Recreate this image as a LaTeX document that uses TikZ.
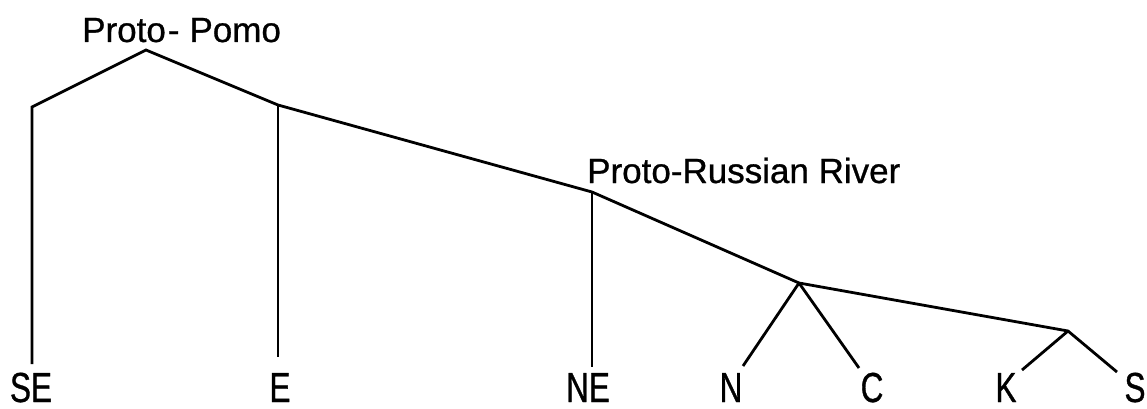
\documentclass[tikz,border=0pt]{standalone}
\usepackage{fontspec}
\setmainfont{Liberation Sans}[FakeBold=0.8]
\newfontfamily\condfont[FakeStretch=0.75,FakeBold=0.8]{Liberation Sans}
\begin{document}
\begin{tikzpicture}[x=1pt,y=-1pt,
  branch/.style={line width=2.8pt,line join=miter,line cap=butt},
  toplabel/.style={anchor=base west,inner sep=0pt,font=\fontsize{35}{40}\selectfont},
  leaf/.style={anchor=base,inner sep=0pt,font=\condfont\fontsize{42}{46}\selectfont}]
\useasboundingbox (0,0) rectangle (1147,409);
% labels
\node[toplabel] (pp) at (82,42) {Proto\hspace{2pt}-\hspace{10pt}Pomo};
\node[toplabel] (prr) at (587,183) {Proto-Russian River};
\node[leaf] (SE) at (31,402) {SE};
\node[leaf] (E) at (280,402) {E};
\node[leaf] (NE) at (588,402) {NE};
\node[leaf] (N) at (731,402) {N};
\node[leaf] (C) at (872,402) {C};
\node[leaf] (K) at (1006,402) {K};
\node[leaf] (S) at (1135,402) {S};
% junctions
\coordinate (top) at (146,50);
\coordinate (l) at (32,107);
\coordinate (e) at (278,105);
\coordinate (rr) at (592,192);
\coordinate (nc) at (799,283);
\coordinate (ks) at (1068,331);
% free ends
\coordinate (seend) at (32,364);
\coordinate (eend) at (278,357);
\coordinate (neend) at (592,367);
\coordinate (nend) at (743,366);
\coordinate (cend) at (859,368);
\coordinate (kend) at (1022,370);
\coordinate (send) at (1117,372);
% tree
\draw[branch] (seend) -- (l) -- (top) -- (e) -- (rr) -- (nc) -- (ks) -- (send);
\draw[branch] (e) -- (eend);
\draw[branch] (rr) -- (neend);
\draw[branch] (nc) -- (nend);
\draw[branch] (nc) -- (cend);
\draw[branch] (ks) -- (kend);
\end{tikzpicture}
\end{document}
